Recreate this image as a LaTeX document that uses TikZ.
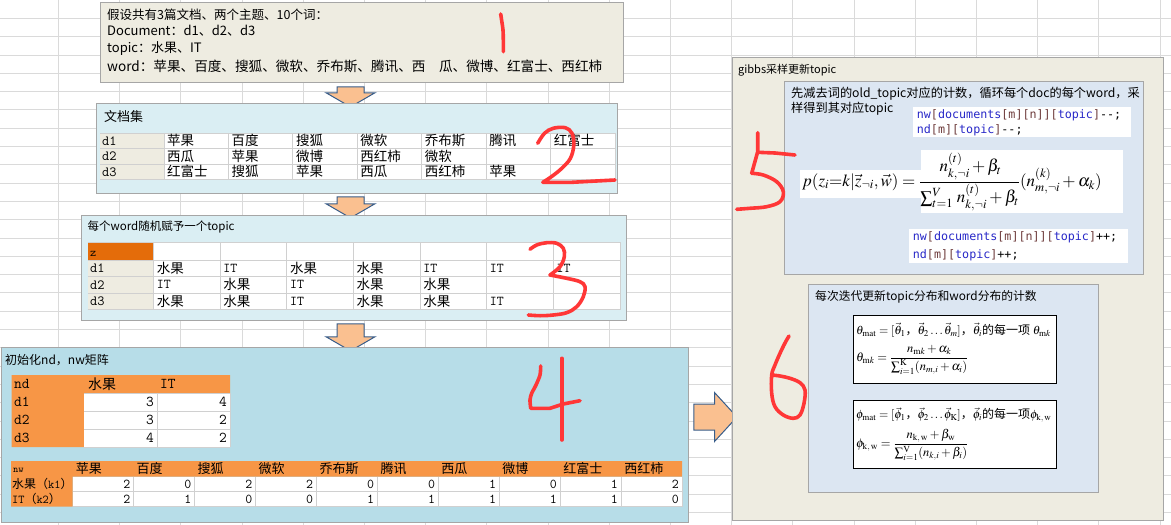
\documentclass[tikz,border=0pt]{standalone}
\usepackage{amsmath}
\usepackage{mathptmx}
\usepackage{fontspec}
\setmainfont{Liberation Serif}
\newfontfamily\cjk{Noto Sans CJK SC}
\newfontfamily\codefont{DejaVu Sans Mono}
\usetikzlibrary{shapes.arrows,calc}
\definecolor{gridgray}{RGB}{218,218,218}
\definecolor{panelline}{RGB}{166,166,166}
\definecolor{cellgray}{RGB}{208,208,208}
\definecolor{tanbg}{RGB}{238,236,225}
\definecolor{paleblue}{RGB}{218,238,243}
\definecolor{midblue}{RGB}{183,221,232}
\definecolor{steelpale}{RGB}{220,230,242}
\definecolor{cellorange}{RGB}{247,150,70}
\definecolor{deeporange}{RGB}{228,108,10}
\definecolor{arrowfill}{RGB}{250,192,144}
\definecolor{arrowline}{RGB}{56,93,138}
\definecolor{inkred}{RGB}{255,55,55}
\definecolor{codeblue}{RGB}{40,40,200}
\definecolor{codebrown}{RGB}{110,60,60}
\newcommand{\cid}[1]{\textcolor{codeblue}{#1}}
\newcommand{\cbr}[1]{\textcolor{codebrown}{#1}}
\newcommand{\tIT}{{\ttfamily IT}}

\begin{document}
\begin{tikzpicture}[x=1pt, y=-1pt,
    gridline/.style={draw=gridgray, line width=0.8pt},
    panel/.style={draw=panelline, line width=1pt, anchor=north west, inner sep=0pt},
    whitebox/.style={fill=white, anchor=north west, inner sep=0pt},
    cellline/.style={draw=cellgray, line width=0.9pt},
    downarrow/.style={single arrow, draw=arrowline, line width=1pt, fill=arrowfill, rotate=-90, inner xsep=0pt, inner ysep=13pt, single arrow head extend=11pt, single arrow tip angle=120},
    cnote/.style={font=\cjk\fontsize{12}{14}\selectfont, anchor=west, inner sep=0pt},
    cell/.style={font=\cjk\fontsize{13.5}{15}\selectfont, anchor=west, inner sep=0pt},
    ttcell/.style={font=\ttfamily\fontsize{14}{15}\selectfont, anchor=west, inner sep=0pt},
    numcell/.style={font=\ttfamily\fontsize{13.5}{15}\selectfont, anchor=east, inner sep=0pt},
    code/.style={font=\codefont\fontsize{11.7}{13}\selectfont, anchor=west, inner sep=0pt},
    pen/.style={draw=inkred, line width=3.6pt, line cap=round, line join=round}]
\useasboundingbox (0,0) rectangle (1171,525);
\fill[white] (0,0) rectangle (1171,525);
% sheet grid
\foreach \k in {0,...,18} \draw[gridline] ({58.4+61.2*\k},0) -- ++(0,525);
\foreach \k in {1,...,28} \draw[gridline] (0,{18.3*\k}) -- ++(1171,0);

% 1: assumptions
\node[panel, fill=tanbg, minimum width=523, minimum height=80] (intro) at (99.5,1.5) {};
\node[cnote, font=\cjk\fontsize{12.5}{14}\selectfont] (intro1) at (107,15) {假设共有3篇文档、两个主题、10个词：};
\node[cnote, font=\cjk\fontsize{13}{15}\selectfont] (intro2) at (107,31) {Document：d1、d2、d3};
\node[cnote, font=\cjk\fontsize{13}{15}\selectfont] (intro3) at (107,48.3) {topic：水果、IT};
\node[cnote, font=\cjk\fontsize{13.6}{15}\selectfont] (intro4) at (107,66) {word：苹果、百度、搜狐、微软、乔布斯、腾讯、西　瓜、微博、红富士、西红柿};

\node[downarrow, minimum height=20pt] (ar1) at (350.5,93) {};

% 2: documents
\node[panel, fill=paleblue, minimum width=521, minimum height=90.5] (docs) at (95.5,102.5) {};
\node[cnote, font=\cjk\fontsize{13}{15}\selectfont] (docstitle) at (104,116.7) {文档集};
\fill[tanbg] (100,133) rectangle (164,179.5);
\fill[white] (164,133) rectangle (615,179.5);
\foreach \y in {133,148.5,164,179.5} \draw[cellline] (100,\y) -- (615,\y);
\foreach \k in {0,...,7} \draw[cellline] ({164+64.43*\k},133) -- ++(0,46.5);
\foreach \lab [count=\i] in {d1,d2,d3}
  \node[ttcell] (doclab\i) at (102,{133+15.5*(\i-0.5)}) {\lab};
\foreach \row [count=\i] in {{苹果,百度,搜狐,微软,乔布斯,腾讯,红富士},{西瓜,苹果,微博,西红柿,微软},{红富士,搜狐,苹果,西瓜,西红柿,苹果}}
  \foreach \w [count=\j] in \row
    \node[cell] (docw\i-\j) at ({164+64.43*(\j-1)+3},{133+15.5*(\i-0.5)}) {\w};

\node[downarrow, minimum height=21pt] (ar2) at (350.5,203.5) {};

% 3: random topics
\node[panel, fill=paleblue, minimum width=545, minimum height=105] (assign) at (80.5,215) {};
\node[cnote, font=\cjk\fontsize{11.5}{13}\selectfont] (assigntitle) at (87.5,226.7) {每个word随机赋予一个topic};
\fill[deeporange] (87.5,242) rectangle (153.6,260);
\fill[tanbg] (87.5,260) rectangle (153.6,309.5);
\fill[white] (153.6,242) rectangle (620,309.5);
\foreach \y in {242,260,276.5,293,309.5} \draw[cellline] (87.5,\y) -- (620,\y);
\foreach \k in {0,...,7} \draw[cellline] ({153.6+66.63*\k},242) -- ++(0,67.5);
\node[ttcell, font=\ttfamily\fontsize{12}{13}\selectfont] (zhead) at (90,254) {z};
\foreach \lab [count=\i] in {d1,d2,d3}
  \node[ttcell] (zlab\i) at (90,{260+16.5*(\i-0.5)}) {\lab};
\foreach \row [count=\i] in {{水果,\tIT,水果,水果,\tIT,\tIT,\tIT},{\tIT,水果,\tIT,水果,水果},{水果,水果,\tIT,水果,水果,\tIT}}
  \foreach \w [count=\j] in \row
    \node[cell] (zw\i-\j) at ({153.6+66.63*(\j-1)+3},{260+16.5*(\i-0.5)}) {\w};

\node[downarrow, minimum height=27pt] (ar3) at (350.5,333.5) {};

% 4: count matrices
\node[panel, fill=midblue, minimum width=687.5, minimum height=175] (counts) at (0.5,347) {};
\node[cnote] (countstitle) at (5,360) {初始化nd，nw矩阵};
\fill[cellorange] (11.7,375) rectangle (84,447) (84,375) rectangle (230,393);
\fill[white] (84,393) rectangle (230,447);
\foreach \y in {393,411,429,447} \draw[cellline] (84,\y) -- (230,\y);
\draw[cellline] (157,393) -- (157,447) (230,393) -- (230,447);
\node[ttcell, font=\ttfamily\fontsize{15}{16}\selectfont] (ndhead) at (14,384) {nd};
\node[cell, font=\cjk\fontsize{14}{16}\selectfont] (ndfruit) at (88,384) {水果};
\node[ttcell, font=\ttfamily\fontsize{15}{16}\selectfont] (ndit) at (160,384) {IT};
\foreach \lab/\a/\b [count=\i] in {d1/3/4,d2/3/2,d3/4/2} {
  \node[ttcell, font=\ttfamily\fontsize{15}{16}\selectfont] (ndlab\i) at (14,{393+18*(\i-0.5)}) {\lab};
  \node[numcell, font=\ttfamily\fontsize{15}{16}\selectfont] (nda\i) at (154,{393+18*(\i-0.5)}) {\a};
  \node[numcell, font=\ttfamily\fontsize{15}{16}\selectfont] (ndb\i) at (227,{393+18*(\i-0.5)}) {\b};
}
\fill[cellorange] (11,461) rectangle (72.6,506.7) (72.6,461) rectangle (682,476.7);
\fill[white] (72.6,476.7) rectangle (682,506.7);
\foreach \y in {491.7,506.7} \draw[cellline] (72.6,\y) -- (682,\y);
\foreach \k in {1,...,10} \draw[cellline] ({72.6+60.94*\k},476.7) -- ++(0,30);
\node[ttcell, font=\ttfamily\fontsize{10}{11}\selectfont] (nwhead) at (13,470) {nw};
\foreach \w [count=\j] in {苹果,百度,搜狐,微软,乔布斯,腾讯,西瓜,微博,红富士,西红柿}
  \node[cell, font=\cjk\fontsize{13}{15}\selectfont] (nwh\j) at ({72.6+60.94*(\j-1)+3},469) {\w};
\node[cell, font=\cjk\fontsize{12}{14}\selectfont] (nwk1) at (12,484.2) {水果（{\ttfamily k1}）};
\node[cell, font=\cjk\fontsize{12}{14}\selectfont] (nwk2) at (12,499.2) {{\ttfamily IT}（{\ttfamily k2}）};
\foreach \row [count=\i] in {{2,0,2,2,0,0,1,0,1,2},{2,1,0,0,1,1,1,1,1,0}}
  \foreach \v [count=\j] in \row
    \node[numcell] (nwv\i-\j) at ({72.6+60.94*\j-3},{476.7+15*(\i-0.5)}) {\v};

\node[single arrow, draw=arrowline, line width=1pt, fill=arrowfill, inner xsep=0pt, inner ysep=12.5pt, single arrow head extend=11.5pt, single arrow tip angle=95, minimum height=43pt] (ar4) at (709.5,417) {};

% 5: gibbs sampling
\node[panel, fill=tanbg, minimum width=431, minimum height=463] (gibbs) at (732,57) {};
\node[cnote, font=\cjk\fontsize{11}{13}\selectfont] (gibbstitle) at (738,70) {gibbs采样更新topic};
\node[panel, fill=steelpale, minimum width=359, minimum height=193.5] (resample) at (783.5,80.5) {};
\node[cnote, font=\cjk\fontsize{12.2}{14}\selectfont] (resnote1) at (791,93.5) {先减去词的old\_topic对应的计数，循环每个doc的每个word，采};
\node[cnote, font=\cjk\fontsize{12.2}{14}\selectfont] (resnote2) at (791,108.7) {样得到其对应topic};
\node[whitebox, minimum width=218, minimum height=30] (decbox) at (912.7,106.7) {};
\node[code] (dec1) at (916.7,115) {\cid{nw}\cbr{[}\cid{documents}\cbr{[m][n]][}\cid{topic}\cbr{]}-{}-;};
\node[code] (dec2) at (916.7,130) {\cid{nd}\cbr{[m][}\cid{topic}\cbr{]}-{}-;};
\node[whitebox, minimum width=122, minimum height=28] (pboxl) at (799.3,170) {};
\node[whitebox, minimum width=202, minimum height=63] (pboxr) at (921,150) {};
\node[anchor=west, inner sep=0pt, font=\fontsize{17}{20}\selectfont] (pformula) at (802,182)
  {$p(z_i{=}k|\vec{z}_{\neg i},\vec{w}) = \dfrac{\rule{0pt}{17pt}\,n^{(t)}_{k,\neg i}+\beta_t}{\sum_{t=1}^{V}\, n^{(t)}_{k,\neg i}+\beta_t\rule[-7pt]{0pt}{7pt}}(n^{(k)}_{m,\neg i}+\alpha_k)$};
\node[whitebox, minimum width=219, minimum height=34] (incbox) at (909,229) {};
\node[code] (inc1) at (912.7,237.7) {\cid{nw}\cbr{[}\cid{documents}\cbr{[m][n]][}\cid{topic}\cbr{]}++;};
\node[code] (inc2) at (912.7,255) {\cid{nd}\cbr{[m][}\cid{topic}\cbr{]}++;};

% 6: distributions
\node[panel, fill=steelpale, minimum width=290, minimum height=208] (dists) at (807.5,284) {};
\node[cnote, font=\cjk\fontsize{11.8}{14}\selectfont] (diststitle) at (815,297.3) {每次迭代更新topic分布和word分布的计数};
\node[whitebox, draw=black, line width=1pt, minimum width=202.4, minimum height=68.3] (thetabox) at (853.3,315) {};
\node[cnote, font=\cjk\fontsize{12}{14}\selectfont] (theta1) at (856,330)
  {$\theta_{\mathrm{mat}}=[\vec{\theta}_1$，$\vec{\theta}_2\ldots\vec{\theta}_m]$，$\vec{\theta}_i$的每一项 $\theta_{\mathrm{m}k}$};
\node[cnote, font=\cjk\fontsize{12.5}{14}\selectfont] (theta2) at (856,360)
  {$\theta_{\mathrm{m}k}=\dfrac{n_{\mathrm{m}k}+\alpha_k}{\sum_{i=1}^{\mathrm{K}}(n_{m,i}+\alpha_i)}$};
\node[whitebox, draw=black, line width=1pt, minimum width=202.4, minimum height=68.3] (phibox) at (853.3,400) {};
\node[cnote, font=\cjk\fontsize{12}{14}\selectfont] (phi1) at (856,415)
  {$\phi_{\mathrm{mat}}=[\vec{\phi}_1$，$\vec{\phi}_2\ldots\vec{\phi}_{\mathrm{K}}]$，$\vec{\phi}_i$的每一项$\phi_{\mathrm{k,\,w}}$};
\node[cnote, font=\cjk\fontsize{12.5}{14}\selectfont] (phi2) at (856,445)
  {$\phi_{\mathrm{k,\,w}}=\dfrac{n_{\mathrm{k,\,w}}+\beta_{\mathrm{w}}}{\sum_{i=1}^{\mathrm{V}}(n_{k,i}+\beta_i)}$};

% handwritten step numbers
\draw[pen] plot[smooth, tension=0.6] coordinates {(500.7,14) (501.7,20.7) (503,30) (503.3,40) (503.3,51.7)};
\draw[pen] plot[smooth, tension=0.6] coordinates {(537.7,143.3) (544.5,133.3) (553.2,128.3) (565.2,127.7) (572,133.3) (573.8,145) (570.4,158.3) (561.8,168.3) (551.4,176.7) (542.8,182.3)} -- (572,182.3) -- (615,180);
\draw[pen] plot[smooth, tension=0.6] coordinates {(530,249.3) (536.7,245) (546.7,242.7) (556.7,243.3) (563.3,248.3) (564.3,256.7) (560,266.7) (550,275)};
\draw[pen] plot[smooth, tension=0.6] coordinates {(550,275) (566.7,278.3) (580,281.7) (585,286.7) (583.3,296.7) (576.7,306.7) (566.7,312.7) (553.3,315) (540,315.7) (528.3,315)};
\draw[pen] plot[smooth, tension=0.5] coordinates {(540.7,366) (540,375) (536,385) (531.7,393.3) (530,400) (530.7,408.3)} -- (550,408.3) -- (563.3,404) -- (580,400.7);
\draw[pen] (561.7,358.3) -- (561.7,440);
\draw[pen] (757.7,132.7) -- (757.7,151.7) -- (751.7,173.3);
\draw[pen] (757.7,152.3) -- (775,153) -- (795,155);
\draw[pen] plot[smooth, tension=0.6] coordinates {(751.7,173.3) (763.3,175) (776.7,181.7) (783.3,191.7) (780,201.7) (766.7,206.7) (750,208.3) (736.7,209.3)};
\draw[pen] plot[smooth, tension=0.6] coordinates {(789,336) (785,343) (780,353.3) (775,365) (771.7,375) (771.7,393.3) (775,406.7) (783.3,415) (793.3,418.3) (800,415) (804,403.3) (805,390) (800,382.7) (790,378.3) (780,376) (771.7,375)};
\end{tikzpicture}
\end{document}
